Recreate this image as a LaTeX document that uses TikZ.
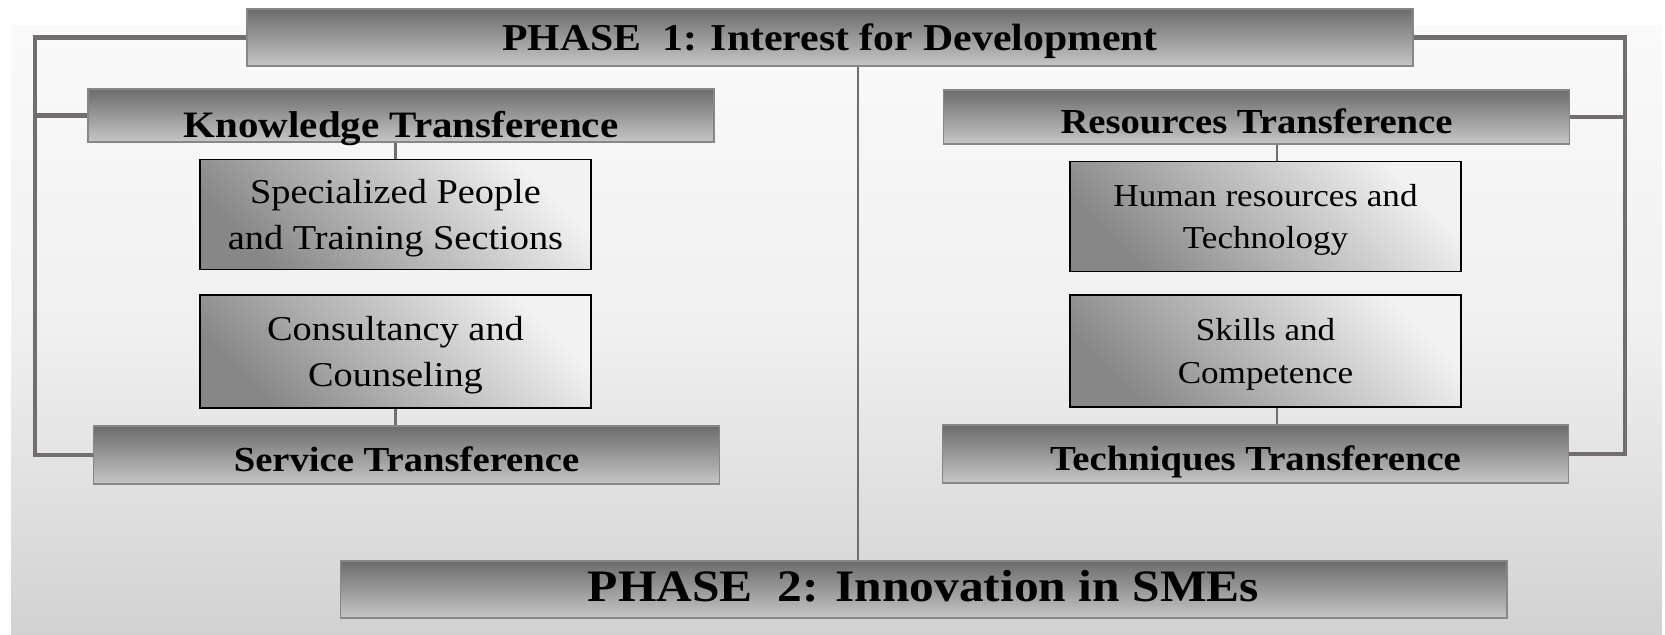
\documentclass[tikz,border=0pt]{standalone}
\usepackage{fontspec}
\setmainfont{Liberation Serif}[FakeStretch=1.1]
\definecolor{bgtop}{RGB}{250,250,250}
\definecolor{bgmid}{RGB}{240,240,240}
\definecolor{bgbot}{RGB}{210,210,210}
\definecolor{headtop}{RGB}{108,108,108}
\definecolor{headbot}{RGB}{198,198,198}
\definecolor{headline}{RGB}{135,135,135}
\definecolor{inlo}{RGB}{135,135,135}
\definecolor{inhi}{RGB}{242,242,242}
\definecolor{wire}{RGB}{115,110,110}
\begin{document}
\begin{tikzpicture}[x=0.025cm,y=-0.025cm,
  head/.style={rectangle,draw=headline,line width=1.2pt,top color=headtop,bottom color=headbot,
    inner sep=0pt,minimum width=15.65cm,minimum height=1.35cm,text height=23.8pt,text depth=0pt,
    font=\bfseries\fontsize{25}{30}\selectfont},
  phase/.style={head,minimum width=29.15cm,minimum height=1.425cm},
  inbox/.style={rectangle,draw=black,line width=1pt,top color=inhi,bottom color=inlo,shading angle=-45,
    inner sep=0pt,minimum width=9.775cm,minimum height=2.75cm,text depth=0pt,align=center,
    font=\fontsize{24.8}{32.7}\selectfont},
  frame/.style={draw=wire,line width=3.5pt},
  link/.style={draw=wire,line width=2pt}]
\useasboundingbox (0,0) rectangle (1665,634);
\fill[top color=bgtop,bottom color=bgbot,middle color=bgmid] (11,25) rectangle (1662,634);
% helper columns
\coordinate (L) at (35,0);
\coordinate (R) at (1625,0);
\coordinate (M) at (858,0);
\coordinate (N) at (1277,0);
% phases
\node[phase,text height=18.5pt,font=\bfseries\fontsize{27}{32}\selectfont] (P1) at (830,37.5) {PHASE\ \ 1: Interest for Development};
\node[phase,text height=17.6pt,font=\bfseries\fontsize{32}{38}\selectfont] (P2) at (923.5,589.5) {PHASE\ \ 2: Innovation in SMEs};
% transference boxes
\node[head,font=\bfseries\fontsize{26.5}{31}\selectfont,minimum height=1.325cm,text height=31.5pt] (KT) at (401,115.5) {Knowledge Transference};
\node[head] (RT) at (1256.5,117) {Resources Transference};
\node[head,minimum height=1.45cm] (ST) at (406.5,455) {Service Transference};
\node[head,minimum height=1.45cm] (TT) at (1255.5,454) {Techniques Transference};
% inner boxes
\node[inbox] (SP) at (395.5,214.5) {Specialized People\\and Training Sections};
\node[inbox,minimum height=2.825cm] (CC) at (395.5,351.5) {Consultancy and\\Counseling};
\node[inbox,font=\fontsize{22.7}{30}\selectfont] (HR) at (1265.5,216.5) {Human resources and\\Technology};
\node[inbox,font=\fontsize{22.7}{30}\selectfont,minimum height=2.8cm] (SC) at (1265.5,351) {Skills and\\Competence};
% outer frame
\draw[frame] (P1.west) -| (L |- ST.west) -- (ST.west);
\draw[frame] (L |- KT.west) -- (KT.west);
\draw[frame] (P1.east) -| (R |- TT.east) -- (TT.east);
\draw[frame] (R |- RT.east) -- (RT.east);
% links
\draw[link] (M |- P1.south) -- (M |- P2.north);
\draw[link] (SP.north |- KT.south) -- (SP.north);
\draw[link] (CC.south) -- (CC.south |- ST.north);
\draw[link] (N |- RT.south) -- (N |- HR.north);
\draw[link] (N |- SC.south) -- (N |- TT.north);
\end{tikzpicture}
\end{document}
